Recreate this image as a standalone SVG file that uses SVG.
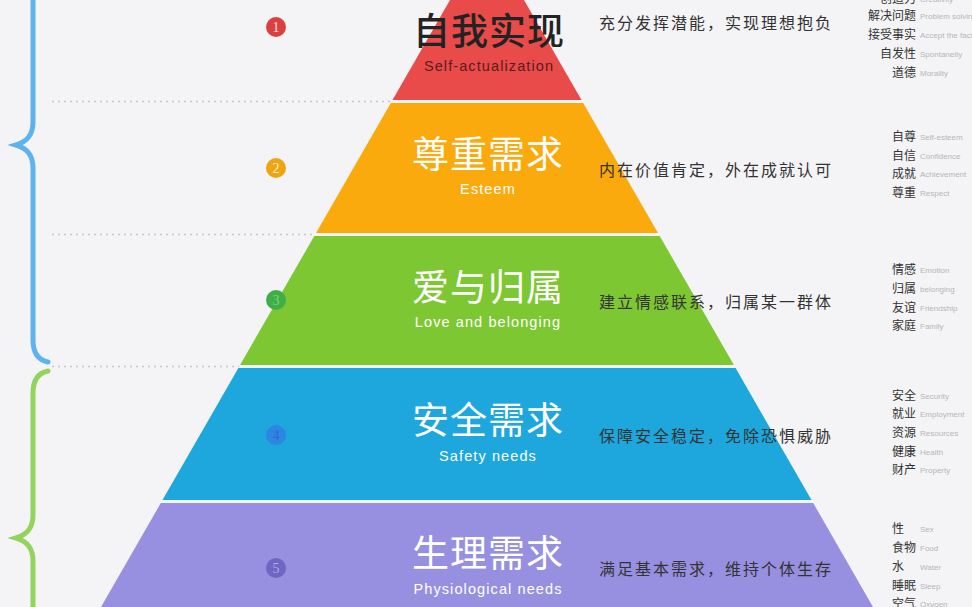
<svg xmlns="http://www.w3.org/2000/svg" width="972" height="607" viewBox="0 0 972 607">
<defs>
<style>
.bg{fill:#f4f4f6}
.dot{stroke:#c8c8cc;stroke-width:1.5;stroke-dasharray:2 4;fill:none}
.brb{stroke:#5db3ee;stroke-width:5;fill:none;stroke-linecap:round}
.brg{stroke:#92d45c;stroke-width:5;fill:none;stroke-linecap:round}
.zh{font-family:"Noto Sans CJK SC","Noto Sans",sans-serif;text-anchor:middle}
.title{font-size:37px;letter-spacing:1px;font-weight:400}
.en{font-family:"Liberation Sans",Arial,sans-serif;font-size:14.5px;letter-spacing:1.1px;text-anchor:middle}
.desc{font-family:"Noto Sans CJK SC",sans-serif;font-size:16px;letter-spacing:2px;fill:#333}
.lz{font-family:"Noto Sans CJK SC",sans-serif;font-size:12px;fill:#333}
.le{font-family:"Liberation Sans",Arial,sans-serif;font-size:8px;fill:#b5b5b8}
.num{font-family:"Liberation Serif",serif;font-size:14px;text-anchor:middle}
</style>
</defs>
<rect class="bg" x="0" y="0" width="972" height="607"/>
<g id="connectors">
<line class="dot" x1="52" y1="101.5" x2="392" y2="101.5"/>
<line class="dot" x1="52" y1="234.5" x2="315" y2="234.5"/>
<line class="dot" x1="52" y1="366.5" x2="239" y2="366.5"/>
<path class="brb" d="M33,0 V122 C33,136 26,142 16,145 C26,148 33,154 33,168 V340 C33,352 38,360 48,362"/>
<path class="brg" d="M48,371 C38,373 33,381 33,393 V515 C33,529 26,535 16,538 C26,541 33,547 33,561 V607"/>
</g>
<g id="layer1">
<polygon points="450,0 524,0 581.5,100 392.5,100" fill="#e84b4a"/>
<circle cx="276" cy="27" r="10" fill="#d9403f"/>
<text class="num" x="276" y="32" fill="#fbe0dc">1</text>
<text class="zh title" x="489" y="45" fill="#232323" style="font-weight:500">自我实现</text>
<text class="en" x="489" y="71" fill="#5a1c1c">Self-actualization</text>
</g>
<g id="layer2">
<polygon points="390.8,103 583.2,103 658,233 316,233" fill="#fbaa0d"/>
<circle cx="276" cy="168" r="10" fill="#eea514"/>
<text class="num" x="276" y="173" fill="#fff3c8">2</text>
<text class="zh title" x="488" y="168" fill="#fff">尊重需求</text>
<text class="en" x="488" y="194" fill="#fff">Esteem</text>
</g>
<g id="layer3">
<polygon points="314.3,236 659.7,236 733.9,365 240.1,365" fill="#7dc733"/>
<circle cx="276" cy="300" r="10" fill="#3fae47"/>
<text class="num" x="276" y="305" fill="#7fd36e">3</text>
<text class="zh title" x="488" y="301" fill="#fff">爱与归属</text>
<text class="en" x="488" y="327" fill="#fff">Love and belonging</text>
</g>
<g id="layer4">
<polygon points="238.4,368 735.6,368 811.5,500 162.5,500" fill="#1ea7dd"/>
<circle cx="276" cy="435" r="10" fill="#2f85e2"/>
<text class="num" x="276" y="440" fill="#1f6fd0">4</text>
<text class="zh title" x="488" y="434" fill="#fff">安全需求</text>
<text class="en" x="488" y="461" fill="#fff">Safety needs</text>
</g>
<g id="layer5">
<polygon points="160.8,503 813.2,503 873,607 101,607" fill="#9790e0"/>
<circle cx="276" cy="568" r="10" fill="#6d66c2"/>
<text class="num" x="276" y="573" fill="#b0aaf0">5</text>
<text class="zh title" x="488" y="567" fill="#fff">生理需求</text>
<text class="en" x="488" y="594" fill="#fff">Physiological needs</text>
</g>
<g id="descriptions">
<text class="desc" x="599" y="29">充分发挥潜能，实现理想抱负</text>
<text class="desc" x="599" y="176">内在价值肯定，外在成就认可</text>
<text class="desc" x="599" y="308">建立情感联系，归属某一群体</text>
<text class="desc" x="599" y="442">保障安全稳定，免除恐惧威胁</text>
<text class="desc" x="599" y="575">满足基本需求，维持个体生存</text>
</g>
<g id="list1">
<text class="lz" x="916" y="3" text-anchor="end">创造力</text><text class="le" x="920" y="2">Creativity</text>
<text class="lz" x="916" y="20" text-anchor="end">解决问题</text><text class="le" x="920" y="19">Problem solving</text>
<text class="lz" x="916" y="39" text-anchor="end">接受事实</text><text class="le" x="920" y="38">Accept the facts</text>
<text class="lz" x="916" y="58" text-anchor="end">自发性</text><text class="le" x="920" y="57">Spontaneity</text>
<text class="lz" x="916" y="77" text-anchor="end">道德</text><text class="le" x="920" y="76">Morality</text>
</g>
<g id="list2">
<text class="lz" x="916" y="141" text-anchor="end">自尊</text><text class="le" x="920" y="140">Self-esteem</text>
<text class="lz" x="916" y="160" text-anchor="end">自信</text><text class="le" x="920" y="159">Confidence</text>
<text class="lz" x="916" y="178" text-anchor="end">成就</text><text class="le" x="920" y="177">Achievement</text>
<text class="lz" x="916" y="197" text-anchor="end">尊重</text><text class="le" x="920" y="196">Respect</text>
</g>
<g id="list3">
<text class="lz" x="916" y="274" text-anchor="end">情感</text><text class="le" x="920" y="273">Emotion</text>
<text class="lz" x="916" y="293" text-anchor="end">归属</text><text class="le" x="920" y="292">belonging</text>
<text class="lz" x="916" y="312" text-anchor="end">友谊</text><text class="le" x="920" y="311">Friendship</text>
<text class="lz" x="916" y="330" text-anchor="end">家庭</text><text class="le" x="920" y="329">Family</text>
</g>
<g id="list4">
<text class="lz" x="916" y="400" text-anchor="end">安全</text><text class="le" x="920" y="399">Security</text>
<text class="lz" x="916" y="418" text-anchor="end">就业</text><text class="le" x="920" y="417">Employment</text>
<text class="lz" x="916" y="437" text-anchor="end">资源</text><text class="le" x="920" y="436">Resources</text>
<text class="lz" x="916" y="456" text-anchor="end">健康</text><text class="le" x="920" y="455">Health</text>
<text class="lz" x="916" y="474" text-anchor="end">财产</text><text class="le" x="920" y="473">Property</text>
</g>
<g id="list5">
<text class="lz" x="892" y="533">性</text><text class="le" x="920" y="532">Sex</text>
<text class="lz" x="916" y="552" text-anchor="end">食物</text><text class="le" x="920" y="551">Food</text>
<text class="lz" x="892" y="571">水</text><text class="le" x="920" y="570">Water</text>
<text class="lz" x="916" y="590" text-anchor="end">睡眠</text><text class="le" x="920" y="589">Sleep</text>
<text class="lz" x="916" y="608" text-anchor="end">空气</text><text class="le" x="920" y="607">Oxygen</text>
</g>
</svg>
